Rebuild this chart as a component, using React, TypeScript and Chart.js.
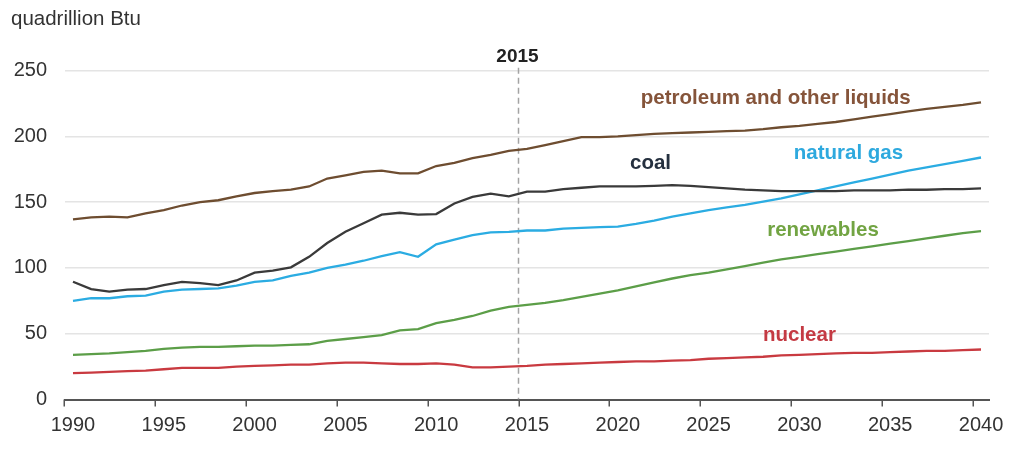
import React, { useEffect, useRef } from "react";
import { Chart, registerables } from "chart.js";

Chart.register(...registerables);

const FONT = '"Liberation Sans", Arial, Helvetica, sans-serif';

const years = [
  1990, 1991, 1992, 1993, 1994, 1995, 1996, 1997, 1998, 1999,
  2000, 2001, 2002, 2003, 2004, 2005, 2006, 2007, 2008, 2009,
  2010, 2011, 2012, 2013, 2014, 2015, 2016, 2017, 2018, 2019,
  2020, 2021, 2022, 2023, 2024, 2025, 2026, 2027, 2028, 2029,
  2030, 2031, 2032, 2033, 2034, 2035, 2036, 2037, 2038, 2039, 2040,
];

const petroleum = [
  137, 138.5, 139, 138.5, 141.5, 144, 147.5, 150, 151.5, 154.5,
  157, 158.5, 159.5, 162, 168, 170.5, 173, 174, 172, 172,
  177.5, 180, 183.5, 186, 189, 190.5, 193.5, 196.5, 199.5, 199.5,
  200, 201, 202, 202.5, 203, 203.5, 204, 204.5, 205.5, 207,
  208, 209.5, 211, 213, 215, 217, 219, 221, 222.5, 224, 226,
];

const coal = [
  89.5, 84, 82, 83.5, 84, 87, 89.5, 88.5, 87, 90.5,
  96.5, 98, 100.5, 108.5, 119, 127.5, 134, 140.5, 142, 140.5,
  141, 149, 154, 156.5, 154.5, 158, 158, 160, 161, 162,
  162, 162, 162.5, 163, 162.5, 161.5, 160.5, 159.5, 159, 158.5,
  158.5, 158.5, 158.5, 159, 159, 159, 159.5, 159.5, 160, 160, 160.5,
];

const naturalGas = [
  75, 77, 77, 78.5, 79, 82, 83.5, 84, 84.5, 86.5,
  89.5, 90.5, 94, 96.5, 100, 102.5, 105.5, 109, 112, 108.5,
  118, 121.5, 125, 127, 127.5, 128.5, 128.5, 130, 130.5, 131,
  131.5, 133.5, 136, 139, 141.5, 144, 146, 148, 150.5, 153,
  156, 159, 162, 165, 168, 171, 174, 176.5, 179, 181.5, 184,
];

const renewables = [
  34, 34.5, 35, 36, 37, 38.5, 39.5, 40, 40, 40.5,
  41, 41, 41.5, 42, 44.5, 46, 47.5, 49, 52.5, 53.5,
  58, 60.5, 63.5, 67.5, 70.5, 72, 73.5, 75.5, 78, 80.5,
  83, 86, 89, 92, 94.5, 96.5, 99, 101.5, 104, 106.5,
  108.5, 110.5, 112.5, 114.5, 116.5, 118.5, 120.5, 122.5, 124.5, 126.5, 128,
];

const nuclear = [
  20, 20.5, 21, 21.5, 22, 23, 24, 24, 24, 25,
  25.5, 26, 26.5, 26.5, 27.5, 28, 28, 27.5, 27, 27,
  27.5, 26.5, 24.5, 24.5, 25, 25.5, 26.5, 27, 27.5, 28,
  28.5, 29, 29, 29.5, 30, 31, 31.5, 32, 32.5, 33.5,
  34, 34.5, 35, 35.5, 35.5, 36, 36.5, 37, 37, 37.5, 38,
];

const xTickYears = [1990, 1995, 2000, 2005, 2010, 2015, 2020, 2025, 2030, 2035, 2040];
const yTickValues = [0, 50, 100, 150, 200, 250];
const unitLabel = "quadrillion Btu";
const markerYear = 2015;
const markerLabel = "2015";

const seriesNames = ["petroleum and other liquids", "coal", "natural gas", "renewables", "nuclear"];
const lineColors = ["#6e4d30", "#3a3a3a", "#2bace2", "#5c9e48", "#c93a40"];
const textColors = ["#85543a", "#25303f", "#2ea9de", "#72a443", "#c43a43"];
// label anchor positions in data units [year, value]
const labelAnchors = [
  [2028.7, 229.3],
  [2021.8, 179.8],
  [2032.7, 187.5],
  [2031.3, 128.9],
  [2030.0, 49.0],
];

export default function App() {
  const ref = useRef<HTMLCanvasElement>(null);

  useEffect(() => {
    if (!ref.current) return;
    const TICK_SHIFT = -8.5;
    const seriesValues = [petroleum, coal, naturalGas, renewables, nuclear];

    const overlay = {
      id: "overlay",
      beforeDatasetsDraw(chart: any) {
        const { ctx, scales } = chart;
        const x = scales.x;
        const y = scales.y;
        const px = x.getPixelForValue(markerYear) + TICK_SHIFT;
        ctx.save();
        ctx.strokeStyle = "#a3a3a3";
        ctx.lineWidth = 1.5;
        ctx.setLineDash([6, 4]);
        ctx.beginPath();
        ctx.moveTo(px, y.getPixelForValue(250) - 3);
        ctx.lineTo(px, y.getPixelForValue(0));
        ctx.stroke();
        ctx.restore();
      },
      afterDraw(chart: any) {
        const { ctx, scales } = chart;
        const x = scales.x;
        const y = scales.y;
        ctx.save();
        // tick marks
        ctx.strokeStyle = "#555";
        ctx.lineWidth = 1.5;
        const y0 = y.getPixelForValue(0);
        xTickYears.forEach((yr) => {
          const px = Math.round(x.getPixelForValue(yr) + TICK_SHIFT) + 0.25;
          ctx.beginPath();
          ctx.moveTo(px, y0);
          ctx.lineTo(px, y0 + 7);
          ctx.stroke();
        });
        // series labels
        ctx.font = `bold 20.5px ${FONT}`;
        ctx.textAlign = "center";
        ctx.textBaseline = "middle";
        seriesNames.forEach((name, i) => {
          ctx.fillStyle = textColors[i];
          ctx.fillText(name, x.getPixelForValue(labelAnchors[i][0]), y.getPixelForValue(labelAnchors[i][1]));
        });
        // 2015 header
        ctx.fillStyle = "#222";
        ctx.font = `bold 19px ${FONT}`;
        ctx.fillText(markerLabel, x.getPixelForValue(markerYear) + TICK_SHIFT - 1, y.getPixelForValue(260.4));
        // unit label
        ctx.font = `20.5px ${FONT}`;
        ctx.textAlign = "left";
        ctx.textBaseline = "alphabetic";
        ctx.fillStyle = "#333";
        ctx.fillText(unitLabel, 11, 25);
        ctx.restore();
      },
    };

    const chart = new Chart(ref.current, {
      type: "line",
      data: {
        datasets: seriesNames.map((name, i) => ({
          label: name,
          data: years.map((yr, j) => ({ x: yr, y: seriesValues[i][j] })),
          borderColor: lineColors[i],
          backgroundColor: lineColors[i],
          borderWidth: 2.3,
          pointRadius: 0,
          tension: 0,
          fill: false,
        })),
      },
      options: {
        animation: false,
        responsive: true,
        maintainAspectRatio: false,
        layout: { padding: { top: 70.7, right: 35, left: 0, bottom: 0 } },
        plugins: {
          legend: { display: false },
          tooltip: { enabled: false },
          title: { display: false },
        },
        scales: {
          x: {
            type: "linear",
            min: 1989.56,
            max: 2040.44,
            afterBuildTicks: (s: any) => {
              s.ticks = xTickYears.map((v) => ({ value: v }));
            },
            afterFit: (s: any) => {
              s.height = 52.5;
            },
            ticks: {
              autoSkip: false,
              maxRotation: 0,
              padding: 14,
              color: "#333",
              font: { family: FONT, size: 20 },
              callback: (v: any) => String(v),
            },
            grid: { display: false, drawTicks: false },
            border: { display: true, color: "#555", width: 2 },
          },
          y: {
            type: "linear",
            min: 0,
            max: 250,
            afterBuildTicks: (s: any) => {
              s.ticks = yTickValues.map((v) => ({ value: v }));
            },
            afterFit: (s: any) => {
              s.width = 65;
            },
            ticks: {
              padding: 18,
              color: "#333",
              font: { family: FONT, size: 20 },
              callback: (v: any) => String(v),
            },
            grid: { color: "#e4e4e4", lineWidth: 1.5, drawTicks: false },
            border: { display: false },
          },
        },
      },
      plugins: [overlay],
    });

    return () => chart.destroy();
  }, []);

  return (
    <div style={{ position: "fixed", left: 0, top: 0, width: 1024, height: 452, background: "#fff" }}>
      <canvas ref={ref} />
    </div>
  );
}
